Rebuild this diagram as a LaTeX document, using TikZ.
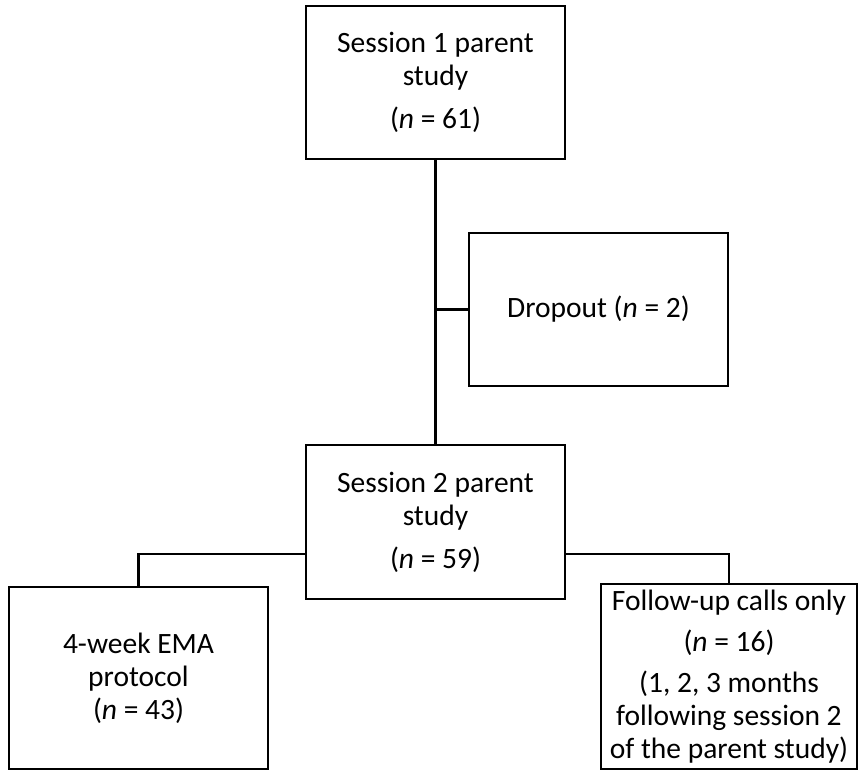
\documentclass[tikz,border=0pt]{standalone}
\usepackage{fontspec}
\setmainfont{Carlito}
\usepackage{tikz}
\usetikzlibrary{positioning}
\tikzset{
  box/.style  ={draw, rectangle, line width=2.7pt, align=center, inner sep=0pt, minimum width=259pt, minimum height=153pt, font=\fontsize{29.5}{33}\selectfont},
  link/.style ={line width=2.7pt},
}

\begin{document}
\begin{tikzpicture}[x=1pt, y=-1pt]
  \useasboundingbox (0,0) rectangle (860,771);
  % stages
  \node[box] (s1) at (435.5,82.5) {Session 1 parent\\ study\\[10pt] (\textit{n} = 61)};
  \node[box] (drop) at (598.5,309.5) {Dropout (\textit{n} = 2)};
  \node[box, minimum height=154pt] (s2) at (435.5,522) {Session 2 parent\\ study\\[10pt] (\textit{n} = 59)};
  \node[box, minimum height=182pt] (ema) at (138.5,678) {4-week EMA\\ protocol\\ (\textit{n} = 43)};
  \node[box, minimum width=256pt, minimum height=185pt] (calls) at (729,676.5)
    {Follow-up calls only\\[8pt] (\textit{n} = 16)\\[8pt] (1, 2, 3 months\\ following session 2\\ of the parent study)};

  % branches
  \coordinate (split) at (0,554);
  \draw[link] (s1) -- (s2);
  \draw[link] (drop.west) -- (drop.west -| s1.south);
  \draw[link] (split -| s2.west) -| (ema.north);
  \draw[link] (split -| s2.east) -| (calls.north);
\end{tikzpicture}
\end{document}
